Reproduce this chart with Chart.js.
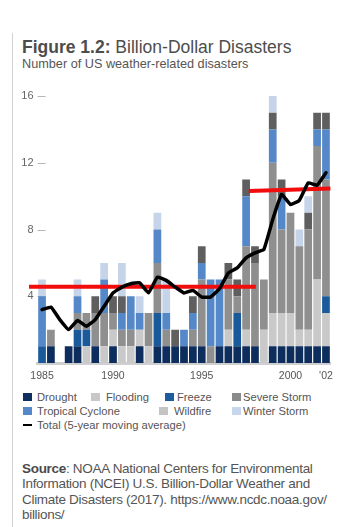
<!DOCTYPE html>
<html>
<head>
<meta charset="utf-8">
<script src="https://cdn.jsdelivr.net/npm/chart.js@4.4.0/dist/chart.umd.min.js"></script>
<style>
  body { margin:0; width:350px; height:527px; background:#fff; font-family:"Liberation Sans", Arial, sans-serif; color:#555; position:relative; overflow:hidden; }
  .rule { position:absolute; left:12px; top:33px; width:1px; height:494px; background:#d2d2d2; }
  .title { position:absolute; left:22px; top:38.5px; font-size:17.5px; line-height:17.5px; color:#4d4d4d; white-space:nowrap; }
  .sub { position:absolute; left:22px; top:57.5px; font-size:12.7px; line-height:12.7px; color:#555; white-space:nowrap; }
  #chartBox { position:absolute; left:0; top:80px; width:350px; height:305px; }
  .leg { position:absolute; font-size:11.2px; line-height:14px; color:#555; white-space:nowrap; }
  .sw { position:absolute; width:9px; height:8px; }
  .source { position:absolute; left:22px; top:460.5px; font-size:13.5px; line-height:15.6px; letter-spacing:-0.3px; color:#555; white-space:nowrap; }
  .source b { color:#4a4a4a; }
</style>
</head>
<body>
<div class="rule"></div>
<div class="title"><b>Figure 1.2:</b> Billion-Dollar Disasters</div>
<div class="sub">Number of US weather-related disasters</div>
<div id="chartBox"><canvas id="chart" width="350" height="305"></canvas></div>
<div id="legend"></div>
<div class="source"><b>Source</b>: NOAA National Centers for Environmental<br>Information (NCEI) U.S. Billion-Dollar Weather and<br>Climate Disasters (2017). https://www.ncdc.noaa.gov/<br>billions/</div>

<script>
// one bar per year, 33 bars
const years = [1985,1986,1987,1988,1989,1990,1991,1992,1993,1994,1995,1996,1997,1998,1999,2000,
  2001,2002,2003,2004,2005,2006,2007,2008,2009,2010,2011,2012,2013,2014,2015,2016,2017];
// the x labels as printed in the figure
const tickLabels = ['1985','','','','','','','','1990','','','','','','','','','','1995',
  '','','','','','','','','','2000','','','',"'02"];
const yTicks = [4, 8, 12, 16];

const drought    = [0,1,0,1,1,0,1,0,1,0,0,1,0,1,1,1,1,1,1,0,1,1,1,1,1,0,1,1,1,1,1,1,1];
const flooding   = [0,0,0,0,0,1,0,1,1,1,1,1,1,0,0,0,0,0,0,0,0,1,0,1,0,2,2,2,2,1,1,4,2];
const freeze     = [1,0,0,0,1,1,0,0,0,0,0,0,0,2,0,0,0,0,0,0,0,0,2,0,0,0,0,0,0,0,0,0,1];
const severe     = [0,1,0,0,1,1,2,2,1,1,1,0,2,3,1,0,0,1,4,1,0,3,1,5,5,3,9,5,6,5,6,8,7];
const tropical   = [3,0,0,0,1,0,0,2,0,1,2,1,0,2,1,0,1,1,1,4,4,0,0,3,0,0,2,2,0,0,0,1,3];
const wildfire   = [0,0,0,0,0,0,1,0,1,1,0,0,0,0,0,1,0,1,1,0,0,1,1,1,1,0,1,1,0,0,1,1,1];
const winter     = [1,0,0,0,1,0,0,1,0,2,0,1,0,1,2,0,0,0,0,0,0,0,0,0,0,0,1,0,0,1,1,0,0];
// total, 5-year moving average
const movingAvg  = [3.2,3.35,2.6,2.0,2.55,2.2,2.6,3.4,4.2,4.55,4.75,4.8,4.2,5.15,4.95,4.55,4.2,
  4.35,3.95,3.95,4.45,5.4,5.7,6.3,6.6,6.8,8.6,10.1,9.5,9.75,10.8,10.65,11.4];
// red average lines, x in bar index units
const avgEarly = [{x:-1.47, y:4.57}, {x:24.1, y:4.57}];
const avgLate  = [{x:23.3, y:10.3}, {x:32.5, y:10.45}];

const series = [
  {label:'Drought', data:drought, color:'#0d2e5c', swatch:'#0f2f5f', pos:[23,37,0]},
  {label:'Flooding', data:flooding, color:'#c9c9c9', swatch:'#c8c8c8', pos:[91,106,0]},
  {label:'Freeze', data:freeze, color:'#1b5a9a', swatch:'#1d5c9d', pos:[165,177,0]},
  {label:'Severe Storm', data:severe, color:'#8f8f8f', swatch:'#8a8a8a', pos:[232,243,0]},
  {label:'Tropical Cyclone', data:tropical, color:'#5588c8', swatch:'#5588c8', pos:[23,37,1]},
  {label:'Wildfire', data:wildfire, color:'#5f5f5f', swatch:'#c4c4c4', pos:[159,174,1]},
  {label:'Winter Storm', data:winter, color:'#c6d4ea', swatch:'#c8d6ec', pos:[232,243,1]}
];

// html legend
const rowY = [397, 411, 424.5];
let legHtml = '';
series.forEach(s => {
  const cy = rowY[s.pos[2]];
  legHtml += '<div class="sw" style="left:' + s.pos[0] + 'px;top:' + (cy - 4) + 'px;background:' + s.swatch + '"></div>';
  legHtml += '<div class="leg" style="left:' + s.pos[1] + 'px;top:' + (cy - 7) + 'px">' + s.label + '</div>';
});
legHtml += '<div class="sw" style="left:23px;top:' + (rowY[2] - 1) + 'px;height:2px;background:#000"></div>';
legHtml += '<div class="leg" style="left:37px;top:' + (rowY[2] - 7) + 'px">Total (5-year moving average)</div>';
document.getElementById('legend').innerHTML = legHtml;

// short tick dashes sitting just inside the plot, under the bars
const tickDash = {
  id: 'tickDash',
  beforeDatasetsDraw(chart) {
    const c = chart.ctx, y = chart.scales.y, left = chart.chartArea.left;
    c.save();
    c.strokeStyle = '#b5b5b5';
    c.lineWidth = 1;
    yTicks.forEach(v => {
      const py = Math.round(y.getPixelForValue(v)) + 0.5;
      c.beginPath();
      c.moveTo(left, py);
      c.lineTo(left + 8, py);
      c.stroke();
    });
    c.restore();
  }
};

// red period averages, drawn just before the black line so it stays on top
const avgLines = {
  id: 'avgLines',
  beforeDatasetDraw(chart, args) {
    if (chart.data.datasets[args.index].label !== 'avg') return;
    const x = chart.scales.x, y = chart.scales.y, c = chart.ctx;
    const x0 = x.getPixelForValue(0), step = x.getPixelForValue(1) - x0;
    c.save();
    c.strokeStyle = '#f20c0c';
    c.lineWidth = 4;
    [avgEarly, avgLate].forEach(seg => {
      c.beginPath();
      seg.forEach((p, i) => {
        const px = x0 + p.x * step, py = y.getPixelForValue(p.y);
        if (i) c.lineTo(px, py); else c.moveTo(px, py);
      });
      c.stroke();
    });
    c.restore();
  }
};

const barSets = series.map(s => ({
  label: s.label,
  data: s.data,
  backgroundColor: s.color,
  borderWidth: 0,
  barPercentage: 1,
  categoryPercentage: 0.87,
  order: 3
}));

const avgSet = {
  type: 'line', label: 'avg', data: movingAvg, stack: 'avg',
  borderColor: '#000', borderWidth: 3.5, tension: 0.1, pointRadius: 0,
  borderJoinStyle: 'round', borderCapStyle: 'round', order: 1
};

new Chart(document.getElementById('chart'), {
  type: 'bar',
  data: { labels: years, datasets: barSets.concat([avgSet]) },
  options: {
    responsive: false,
    animation: false,
    events: [],
    layout: { padding: { top: 16, right: 19.6, left: 0, bottom: 0 } },
    plugins: { legend: { display: false }, tooltip: { enabled: false } },
    scales: {
      x: {
        stacked: true,
        grid: { display: false, drawTicks: false },
        border: { display: true, color: '#cfcfcf', width: 3 },
        ticks: {
          autoSkip: false, maxRotation: 0, padding: 7, color: '#555',
          font: { family: 'Liberation Sans', size: 10.5 },
          callback: (v, i) => tickLabels[i]
        },
        afterFit: s => { s.height = 22; }
      },
      y: {
        stacked: true, min: 0, max: 16,
        grid: { display: false, drawTicks: false },
        border: { display: false },
        ticks: {
          stepSize: 4, padding: 4, color: '#666',
          font: { family: 'Liberation Sans', size: 11 },
          callback: v => v === 0 ? '' : v
        },
        afterFit: s => { s.width = 37.6; }
      }
    }
  },
  plugins: [tickDash, avgLines]
});
</script>
</body>
</html>
